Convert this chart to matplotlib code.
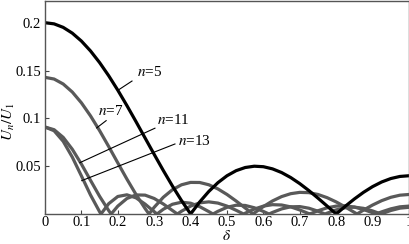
import matplotlib
matplotlib.use("Agg")
import matplotlib.pyplot as plt

plt.rcParams['font.family'] = ['Liberation Serif', 'DejaVu Serif']
plt.rcParams['mathtext.fontset'] = 'stix'

# ---- data ----
d5 = [0.0, 0.025, 0.05, 0.075, 0.1, 0.125, 0.15, 0.175, 0.2, 0.225, 0.25, 0.275, 0.3, 0.325, 0.35, 0.375,
      0.4, 0.425, 0.45, 0.475, 0.5, 0.525, 0.55, 0.575, 0.6, 0.625, 0.65, 0.675, 0.7, 0.725, 0.75, 0.775,
      0.8, 0.825, 0.85, 0.875, 0.9, 0.925, 0.95, 0.975, 1.0]
u5 = [0.2, 0.19877, 0.19510, 0.18907, 0.18081, 0.17048, 0.15830, 0.14453, 0.12944, 0.11335, 0.09657,
      0.07944, 0.06230, 0.04548, 0.02930, 0.01405, 0.0, 0.01261, 0.02357, 0.03274, 0.04000, 0.04529,
      0.04860, 0.04996, 0.04944, 0.04718, 0.04334, 0.03812, 0.03174, 0.02447, 0.01657, 0.00832, 0.0,
      0.00811, 0.01574, 0.02266, 0.02864, 0.03349, 0.03707, 0.03926, 0.04]

d7 = [0.0, 0.025, 0.05, 0.075, 0.1, 0.125, 0.15, 0.175, 0.2, 0.225, 0.25, 0.275, 0.2857,
      0.3, 0.325, 0.35, 0.375, 0.4, 0.425, 0.45, 0.475, 0.5, 0.525, 0.55, 0.5714,
      0.575, 0.6, 0.625, 0.65, 0.675, 0.7, 0.725, 0.75, 0.775, 0.8, 0.825, 0.85, 0.8571,
      0.875, 0.9, 0.925, 0.95, 0.975, 1.0]
u7 = [0.14286, 0.14110, 0.13591, 0.12750, 0.11624, 0.10260, 0.08715, 0.07054, 0.05343, 0.03650,
      0.02041, 0.00573, 0.0,
      0.00703, 0.01749, 0.02537, 0.03054, 0.03302, 0.03294, 0.03056, 0.02623, 0.02041, 0.01358,
      0.00627, 0.0,
      0.00102, 0.00780, 0.01364, 0.01820, 0.02124, 0.02262, 0.02232, 0.02041, 0.01708, 0.01261,
      0.00734, 0.00165, 0.0,
      0.00406, 0.00938, 0.01395, 0.01745, 0.01966, 0.02041]

d11 = [0.0, 0.025, 0.05, 0.075, 0.1, 0.125, 0.15, 0.175, 0.1818,
       0.2, 0.225, 0.25, 0.275, 0.3, 0.325, 0.35, 0.3636,
       0.375, 0.4, 0.425, 0.45, 0.475, 0.5, 0.525, 0.5455,
       0.55, 0.575, 0.6, 0.625, 0.65, 0.675, 0.7, 0.725, 0.7273,
       0.75, 0.775, 0.8, 0.825, 0.85, 0.875, 0.9, 0.9091,
       0.925, 0.95, 0.975, 1.0]
u11 = [0.09091, 0.08813, 0.08010, 0.06767, 0.05218, 0.03522, 0.01850, 0.00358, 0.0,
       0.00826, 0.01621, 0.01995, 0.01973, 0.01622, 0.01047, 0.00369, 0.0,
       0.00290, 0.00826, 0.01165, 0.01269, 0.01142, 0.00826, 0.00390, 0.0,
       0.00085, 0.00514, 0.00826, 0.00975, 0.00942, 0.00744, 0.00421, 0.00036, 0.0,
       0.00342, 0.00647, 0.00826, 0.00853, 0.00725, 0.00468, 0.00131, 0.0,
       0.00226, 0.00538, 0.00751, 0.00826]

d13 = [0.0, 0.025, 0.05, 0.075, 0.1, 0.125, 0.15, 0.1538,
       0.175, 0.2, 0.225, 0.25, 0.275, 0.3, 0.3077,
       0.325, 0.35, 0.375, 0.4, 0.425, 0.45, 0.4615,
       0.475, 0.5, 0.525, 0.55, 0.575, 0.6, 0.6154,
       0.625, 0.65, 0.675, 0.7, 0.725, 0.75, 0.7692,
       0.775, 0.8, 0.825, 0.85, 0.875, 0.9, 0.9231,
       0.925, 0.95, 0.975, 1.0]
u13 = [0.09091, 0.08703, 0.07599, 0.05945, 0.03983, 0.01991, 0.00235, 0.0,
       0.01079, 0.01831, 0.02007, 0.01689, 0.01034, 0.00241, 0.0,
       0.00495, 0.01018, 0.01235, 0.01131, 0.00767, 0.00252, 0.0,
       0.00280, 0.00700, 0.00917, 0.00895, 0.00654, 0.00267, 0.0,
       0.00164, 0.00533, 0.00752, 0.00775, 0.00605, 0.00290, 0.0,
       0.00087, 0.00433, 0.00659, 0.00717, 0.00593, 0.00321, 0.0,
       0.00027, 0.00366, 0.00611, 0.00700]

xticks = [0, 0.1, 0.2, 0.3, 0.4, 0.5, 0.6, 0.7, 0.8, 0.9, 1]
xticklabels = ['0', '0.1', '0.2', '0.3', '0.4', '0.5', '0.6', '0.7', '0.8', '0.9', '1']
yticks = [0.05, 0.1, 0.15, 0.2]
yticklabels = ['0.05', '0.1', '0.15', '0.2']

labels = ['$n$=5', '$n$=7', '$n$=11', '$n$=13']

W, H = 410, 244
fig = plt.figure(figsize=(W / 100, H / 100), dpi=100)
ax = fig.add_axes([45 / W, 30 / H, 364 / W, 213.5 / H])

gray = '#595959'
ax.plot(d13, u13, color=gray, lw=2.3, solid_joinstyle='round')
ax.plot(d11, u11, color=gray, lw=2.3, solid_joinstyle='round')
ax.plot(d7, u7, color=gray, lw=2.3, solid_joinstyle='round')
ax.plot(d5, u5, color='black', lw=2.3, solid_joinstyle='round')

ax.set_xlim(0, 1)
ax.set_ylim(0, 0.2232)
ax.set_xticks(xticks)
ax.set_xticklabels(xticklabels)
ax.set_yticks(yticks)
ax.set_yticklabels(yticklabels)
ax.tick_params(direction='in', length=3, width=0.8, color='#444444', labelsize=10.5)
ax.tick_params(axis='x', pad=1.5)
ax.tick_params(axis='y', pad=3)
for s in ax.spines.values():
    s.set_color('#555555')
    s.set_linewidth(1.0)

# axis titles placed where the reference has them
fig.text(9 / W, 1 - 122 / H, '$U_n/U_1$', fontsize=11, rotation=90, ha='center', va='center')
fig.text(227 / W, 0.5 / H, '$\\delta$', fontsize=11, ha='center', va='bottom')

# leader lines and labels
ann = [
    (labels[0], (0.203, 0.130), (0.239, 0.139), (0.252, 0.148)),
    (labels[1], (0.142, 0.090), (0.168, 0.0976), (0.145, 0.108)),
    (labels[2], (0.096, 0.0537), (0.302, 0.0897), (0.308, 0.0986)),
    (labels[3], (0.101, 0.0349), (0.357, 0.0732), (0.366, 0.0767)),
]
for txt, p0, p1, pt in ann:
    ax.plot([p0[0], p1[0]], [p0[1], p1[1]], color='black', lw=0.8)
    ax.text(pt[0], pt[1], txt, fontsize=11, ha='left', va='center')

fig.savefig('out.png', dpi=100)
